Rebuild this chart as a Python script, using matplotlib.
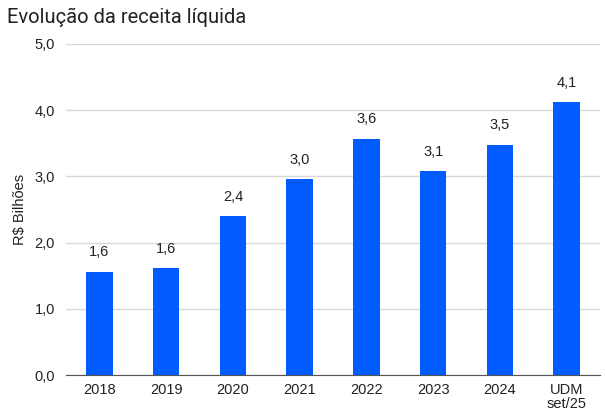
import matplotlib.pyplot as plt
import numpy as np

# Receita líquida anual (R$ bilhões)
categorias = ["2018", "2019", "2020", "2021", "2022", "2023", "2024", "UDM\nset/25"]
receita = [1.56, 1.61, 2.40, 2.96, 3.57, 3.08, 3.48, 4.12]
yticks = [0.0, 1.0, 2.0, 3.0, 4.0, 5.0]

AZUL = "#005cff"
TEXTO = "#222222"
FONTE = "Liberation Sans"

fig = plt.figure(figsize=(6.05, 4.15), dpi=100)
ax = fig.add_axes([66 / 605, 40 / 415, 534 / 605, 331 / 415])

x = np.arange(len(categorias))
ax.bar(x, receita, width=0.4, color=AZUL, zorder=3)

for xi, v in zip(x, receita):
    rotulo = f"{v:.1f}".replace(".", ",")
    ax.annotate(rotulo, (xi, v), xytext=(0, 9), textcoords="offset points",
                ha="center", va="bottom", fontsize=10.5, family=FONTE,
                color=TEXTO)

ax.set_xlim(-0.5, len(categorias) - 0.5)
ax.set_ylim(0, 5.0)
ax.set_yticks(yticks)
ax.set_yticklabels([f"{t:.1f}".replace(".", ",") for t in yticks],
                   fontsize=10.5, family=FONTE, color=TEXTO)
ax.set_xticks(x)
ax.set_xticklabels(categorias, fontsize=10.5, family=FONTE,
                   color=TEXTO, linespacing=1.0)
ax.tick_params(length=0, pad=8)
ax.tick_params(axis="x", pad=6)

ax.grid(axis="y", color="#d9d9d9", lw=1, zorder=0)
for lado in ["top", "right", "left"]:
    ax.spines[lado].set_visible(False)
ax.spines["bottom"].set_color("#555555")
ax.spines["bottom"].set_zorder(4)

ax.set_ylabel("R$ Bilhões", fontsize=10.5, family=FONTE,
              color=TEXTO, labelpad=5)

fig.text(7 / 605, 1 - 17 / 415, "Evolução da receita líquida", fontsize=14.5,
         family="Roboto", color=TEXTO, va="center", ha="left")

fig.savefig("out.png", dpi=100)
